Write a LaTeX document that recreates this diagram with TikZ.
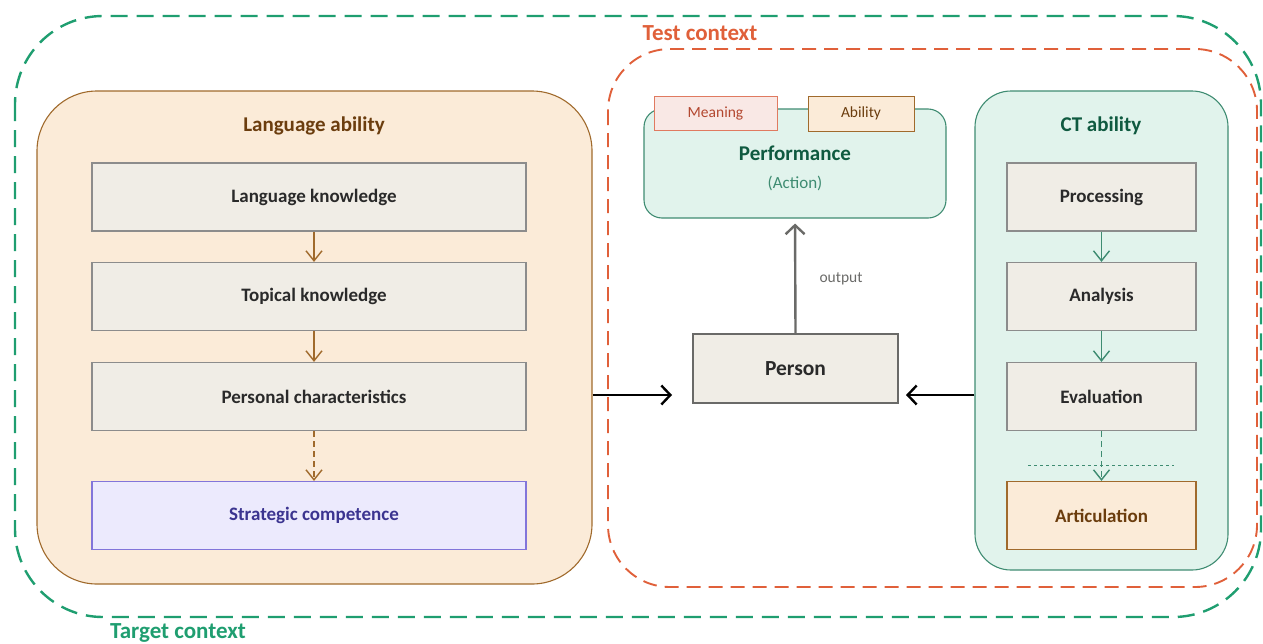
\documentclass[tikz,border=0pt]{standalone}
\usepackage{fontspec}
\setmainfont{Carlito}
\usetikzlibrary{arrows.meta}
\definecolor{tgtgreen}{HTML}{1F9E70}
\definecolor{testorange}{HTML}{E0603A}
\definecolor{labfill}{HTML}{FBEBD8}
\definecolor{labline}{HTML}{A06A2C}
\definecolor{labtext}{HTML}{6B3D0E}
\definecolor{ctfill}{HTML}{E1F3EC}
\definecolor{ctline}{HTML}{3F8C72}
\definecolor{cttext}{HTML}{0F5A40}
\definecolor{boxfill}{HTML}{F0EDE6}
\definecolor{boxline}{HTML}{8C8C8C}
\definecolor{boxtext}{HTML}{2A2A2A}
\definecolor{scfill}{HTML}{ECEAFD}
\definecolor{scline}{HTML}{8275DA}
\definecolor{sctext}{HTML}{3B3490}
\definecolor{mfill}{HTML}{F9E8E5}
\definecolor{mline}{HTML}{E07A60}
\definecolor{mtext}{HTML}{B3472F}
\definecolor{gline}{HTML}{6A6A68}
\tikzset{
  box/.style={draw=boxline, fill=boxfill, line width=1.2pt, minimum width=#1,
    minimum height=68pt, inner sep=0pt, text=boxtext, font=\fontsize{19}{22}\selectfont\bfseries},
  box/.default=434pt,
  panel/.style={line width=1.1pt, inner sep=0pt},
  tab/.style={line width=1pt, inner sep=0pt, font=\fontsize{15.5}{18}\selectfont},
  labarrow/.style={draw=labline, line width=1.4pt, -{Straight Barb[length=10pt,width=16pt]}},
  ctarrow/.style={draw=ctline, line width=1.4pt, -{Straight Barb[length=10pt,width=16pt]}},
  bigarrow/.style={line width=2.4pt, -{Straight Barb[length=9pt,width=19pt]}},
  ctxlabel/.style={font=\fontsize{23}{26}\selectfont\bfseries, inner sep=0pt},
  title/.style={font=\fontsize{21}{24}\selectfont\bfseries},
}
% labels of the language-ability boxes sit a little right of centre
\newcommand{\offc}[1]{\hspace*{10pt}#1}
\begin{document}
\begin{tikzpicture}[x=1pt,y=-1pt]
\useasboundingbox (0,0) rectangle (1263,643);
% Target context (outer) and test context frames
\draw[tgtgreen, line width=2.4pt, dash pattern=on 17pt off 9pt, rounded corners=88pt]
  (15,16) rectangle (1261,617);
\draw[testorange, line width=1.9pt, dash pattern=on 14pt off 8pt, rounded corners=62pt]
  (608,49) rectangle (1257,587);
\node[ctxlabel, text=testorange] (testlab) at (700,33) {Test context};
\node[ctxlabel, text=tgtgreen] (tgtlab) at (178,633) {Target context};

% Language ability panel
\node[panel, draw=labline, fill=labfill, rounded corners=60pt, minimum width=555pt, minimum height=493pt]
  (la) at (314.5,337.5) {};
\node[title, text=labtext] (latitle) at (314,126) {Language ability};
\node[box] (lk) at (309,197) {\offc{Language knowledge}};
\node[box] (tk) at (309,296.5) {\offc{Topical knowledge}};
\node[box] (pc) at (309,396.5) {\offc{Personal characteristics}};
\node[box, draw=scline, fill=scfill, text=sctext] (sc) at (309,515.5) {\offc{Strategic competence}};
\draw[labarrow] ([xshift=5pt]lk.south) -- ([xshift=5pt]tk.north);
\draw[labarrow] ([xshift=5pt]tk.south) -- ([xshift=5pt]pc.north);
\draw[labarrow, dash pattern=on 6pt off 4pt] ([xshift=5pt]pc.south) -- ([xshift=5pt]sc.north);

% CT ability panel
\node[panel, draw=ctline, fill=ctfill, rounded corners=36pt, minimum width=253pt, minimum height=479pt]
  (ct) at (1101.5,330.5) {};
\node[title, text=cttext] (cttitle) at (1101,126) {CT ability};
\node[box=189pt] (proc) at (1101.5,197) {Processing};
\node[box=189pt] (ana) at (1101.5,296.5) {Analysis};
\node[box=189pt] (eva) at (1101.5,396.5) {Evaluation};
\node[box=189pt, draw=labline, fill=labfill, text=labtext] (art) at (1101.5,515.5) {Articulation};
\draw[ctarrow] (proc.south) -- (ana.north);
\draw[ctarrow] (ana.south) -- (eva.north);
\draw[ctarrow, dash pattern=on 6pt off 4pt] (eva.south) -- (art.north);
\coordinate (dl) at (1028,465);
\coordinate (dr) at (1174,465);
\draw[ctline, line width=0.9pt, dash pattern=on 3pt off 3pt] (dl) -- (dr);

% Performance with its two tabs
\node[panel, draw=ctline, fill=ctfill, rounded corners=18pt, minimum width=302pt, minimum height=109pt]
  (perf) at (795,163.5) {};
\node[tab, draw=mline, fill=mfill, text=mtext, minimum width=123pt, minimum height=34pt] (mean) at (715.5,113) {Meaning};
\node[tab, draw=labline, fill=labfill, text=labtext, minimum width=106pt, minimum height=35pt] (abil) at (861,113.5) {Ability};
\node[title, text=cttext] (perftitle) at (795,153) {Performance};
\node[text=ctline, font=\fontsize{17}{20}\selectfont] (action) at (795,183) {(Action)};

% Person and the flows into and out of it
\node[draw=gline, fill=boxfill, line width=2.4pt, minimum width=205pt, minimum height=69pt, inner sep=0pt,
  text=boxtext, font=\fontsize{21.5}{24}\selectfont\bfseries] (person) at (795.5,368.5) {Person};
\draw[bigarrow, gline, shorten >=5pt] (person.north) -- (perf.south);
\node[text=gline, font=\fontsize{15.5}{18}\selectfont] (outlab) at (841,279) {output};
\coordinate (inL) at (672,395);
\coordinate (inR) at (906,395);
\draw[bigarrow, black] (la.east |- inL) -- (inL);
\draw[bigarrow, black] (ct.west |- inR) -- (inR);
\end{tikzpicture}
\end{document}
